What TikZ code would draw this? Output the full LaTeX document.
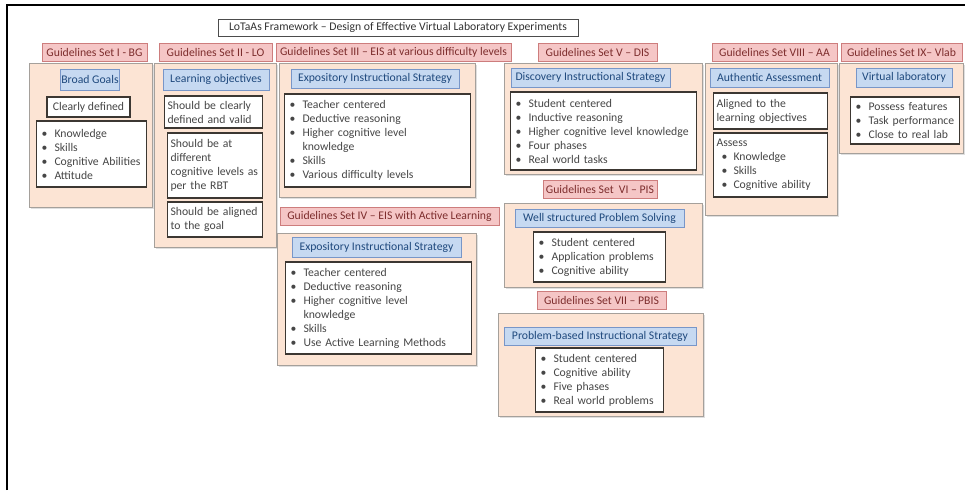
\documentclass[tikz,border=0pt]{standalone}
\usepackage{fontspec}
\setmainfont{Carlito}
\usetikzlibrary{shadows}
\definecolor{hdfill}{RGB}{245,198,198}
\definecolor{hdline}{RGB}{205,125,125}
\definecolor{hdtext}{RGB}{125,45,45}
\definecolor{pnfill}{RGB}{252,228,212}
\definecolor{pnline}{RGB}{165,160,155}
\definecolor{blfill}{RGB}{198,217,241}
\definecolor{blline}{RGB}{120,150,200}
\definecolor{bltext}{RGB}{31,73,125}
\definecolor{bxline}{RGB}{60,55,50}
\definecolor{bxtext}{RGB}{70,70,70}
\newcommand{\bdot}{\makebox[15pt][l]{\hspace{2pt}\textbullet}}
\newcommand{\bdotin}{\makebox[17pt][l]{\hspace{5pt}\textbullet}}
\newcommand{\bcont}{\hspace*{15pt}}
\begin{document}
\begin{tikzpicture}[x=1pt, y=-1pt,
    chu/.style={font=\fontsize{11.7}{14}\selectfont},
    tieude/.style={chu, draw=black!70, fill=white, text=black!80, inner sep=1pt, minimum width=360pt, minimum height=17pt},
    nhom/.style={chu, draw=hdline, fill=hdfill, text=hdtext, inner sep=1pt, minimum height=18pt},
    khung/.style={draw=pnline, fill=pnfill, line width=0.8pt, drop shadow={shadow xshift=1.5pt, shadow yshift=-1.5pt, opacity=0.25}},
    muctieu/.style={chu, draw=blline, fill=blfill, text=bltext, line width=0.8pt, inner sep=1pt},
    hop/.style={chu, draw=bxline, fill=white, text=bxtext, line width=1.3pt, align=left, inner xsep=3pt, inner ysep=1pt}]
    \useasboundingbox (0,0) rectangle (965,490);
    % Khung ngoài
    \draw[line width=2pt] (7,490) -- (7,5) -- (965,5);
    \node[tieude] (tieude) at (398,27.5) {LoTaAs Framework -- Design of Effective Virtual Laboratory Experiments};

    % Các khung nền
    \node[khung, minimum width=123pt, minimum height=144pt] (khungI) at (90.5,135) {};
    \node[khung, minimum width=122pt, minimum height=184pt] (khungII) at (215,155) {};
    \node[khung, minimum width=196pt, minimum height=134pt] (khungIII) at (377,130) {};
    \node[khung, minimum width=199pt, minimum height=132pt] (khungIV) at (376.5,299) {};
    \node[khung, minimum width=198pt, minimum height=111pt] (khungV) at (603,118.5) {};
    \node[khung, minimum width=198pt, minimum height=84pt] (khungVI) at (603,245) {};
    \node[khung, minimum width=205pt, minimum height=103pt] (khungVII) at (600.5,364.5) {};
    \node[khung, minimum width=132pt, minimum height=152pt] (khungVIII) at (771,139) {};
    \node[khung, minimum width=124pt, minimum height=90pt] (khungIX) at (901,108) {};

    % Tên các bộ hướng dẫn
    \node[nhom, minimum width=105pt] (nhomI) at (94.5,52) {Guidelines Set I - BG};
    \node[nhom, minimum width=113pt] (nhomII) at (215.5,52) {Guidelines Set II - LO};
    \node[nhom, minimum width=235pt] (nhomIII) at (393.5,52) {Guidelines Set III -- EIS at various difficulty levels};
    \node[nhom, minimum width=219pt] (nhomIV) at (389.5,216.5) {Guidelines Set IV -- EIS with Active Learning};
    \node[nhom, minimum width=119pt] (nhomV) at (597.5,52) {Guidelines Set V -- DIS};
    \node[nhom, minimum width=114pt] (nhomVI) at (600,189) {Guidelines Set \ VI -- PIS};
    \node[nhom, minimum width=129pt] (nhomVII) at (601.5,300.5) {Guidelines Set VII -- PBIS};
    \node[nhom, minimum width=125pt] (nhomVIII) at (774.5,52) {Guidelines Set VIII -- AA};
    \node[nhom, minimum width=121pt] (nhomIX) at (901.5,52) {Guidelines Set IX-- Vlab};

    % Ô màu xanh
    \node[muctieu, minimum width=58pt, minimum height=21pt] (mtI) at (90,79.5) {Broad Goals};
    \node[muctieu, minimum width=106pt, minimum height=21pt] (mtII) at (216,79.5) {Learning objectives};
    \node[muctieu, minimum width=168pt, minimum height=19pt] (mtIII) at (375,78.5) {Expository Instructional Strategy};
    \node[muctieu, minimum width=169pt, minimum height=20pt] (mtIV) at (376.5,247) {Expository Instructional Strategy};
    \node[muctieu, minimum width=159pt, minimum height=19pt] (mtV) at (590.5,77.5) {Discovery Instructional Strategy};
    \node[muctieu, minimum width=169pt, minimum height=18pt] (mtVI) at (599.5,218) {Well structured Problem Solving};
    \node[muctieu, minimum width=192pt, minimum height=18pt] (mtVII) at (600,336) {Problem-based Instructional Strategy};
    \node[muctieu, minimum width=119pt, minimum height=19pt] (mtVIII) at (769.5,77.5) {Authentic Assessment};
    \node[muctieu, minimum width=96pt, minimum height=19pt] (mtIX) at (904,77.5) {Virtual laboratory};

    % Ô nội dung
    \node[hop, align=center, minimum width=83pt, minimum height=20pt] (hopIa) at (88.5,107) {Clearly defined};
    \node[hop, text width=104pt, minimum height=66pt] (hopIb) at (91.5,154)
        {\bdot Knowledge\\ \bdot Skills\\ \bdot Cognitive Abilities\\ \bdot Attitude};
    \node[hop, text width=92pt, minimum height=32pt] (hopIIa) at (213.5,112) {Should be clearly\\ defined and valid};
    \node[hop, text width=89pt, minimum height=65pt] (hopIIb) at (215,165.5)
        {Should be at\\ different\\ cognitive levels as\\ per the RBT};
    \node[hop, text width=89pt, minimum height=35pt] (hopIIc) at (215,219.5) {Should be aligned\\ to the goal};
    \node[hop, text width=180pt, minimum height=93pt] (hopIII) at (377.5,140.5)
        {\bdot Teacher centered\\ \bdot Deductive reasoning\\ \bdot Higher cognitive level\\ \bcont knowledge\\ \bdot Skills\\ \bdot Various difficulty levels};
    \node[hop, text width=180pt, minimum height=92pt] (hopIV) at (378.5,308)
        {\bdot Teacher centered\\ \bdot Deductive reasoning\\ \bdot Higher cognitive level\\ \bcont knowledge\\ \bdot Skills\\ \bdot Use Active Learning Methods};
    \node[hop, text width=180pt, minimum height=78pt] (hopV) at (603.5,131)
        {\bdot Student centered\\ \bdot Inductive reasoning\\ \bdot Higher cognitive level knowledge\\ \bdot Four phases\\ \bdot Real world tasks};
    \node[hop, text width=126pt, minimum height=50pt] (hopVI) at (599.5,257)
        {\bdot Student centered\\ \bdot Application problems\\ \bdot Cognitive ability};
    \node[hop, text width=122pt, minimum height=64pt] (hopVII) at (599.5,380)
        {\bdot Student centered\\ \bdot Cognitive ability\\ \bdot Five phases\\ \bdot Real world problems};
    \node[hop, text width=108pt, minimum height=36pt] (hopVIIIa) at (770.5,111) {Aligned to the\\ learning objectives};
    \node[hop, text width=108pt, minimum height=64pt] (hopVIIIb) at (770.5,165)
        {Assess\\ \bdotin Knowledge\\ \bdotin Skills\\ \bdotin Cognitive ability};
    \node[hop, text width=103pt, minimum height=47pt] (hopIX) at (905,120.5)
        {\bdot Possess features\\ \bdot Task performance\\ \bdot Close to real lab};
\end{tikzpicture}
\end{document}
